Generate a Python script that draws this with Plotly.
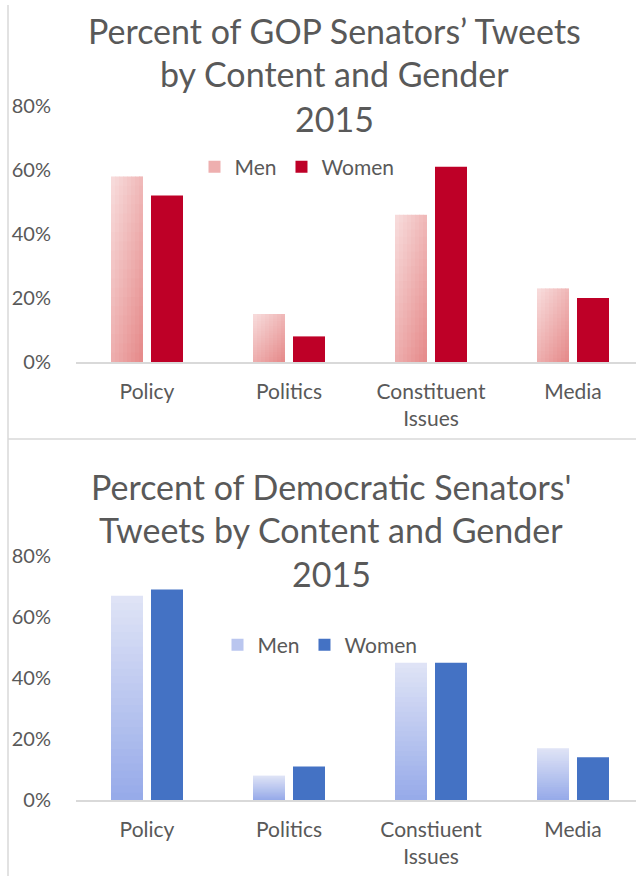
import plotly.graph_objects as go

# ---- data -------------------------------------------------------------
gop_categories = ["Policy", "Politics", "Constituent<br>Issues", "Media"]
dem_categories = ["Policy", "Politics", "Constiuent<br>Issues", "Media"]

gop_men = [0.58, 0.15, 0.46, 0.23]
gop_women = [0.52, 0.08, 0.61, 0.20]

dem_men = [0.67, 0.08, 0.45, 0.17]
dem_women = [0.69, 0.11, 0.45, 0.14]

tick_values = [0, 0.2, 0.4, 0.6, 0.8]
tick_labels = ["0%", "20%", "40%", "60%", "80%"]

gop_title = ["Percent of GOP Senators\u2019 Tweets", "by Content and Gender", "2015"]
dem_title = ["Percent of Democratic Senators'", "Tweets by Content and Gender", "2015"]

# ---- styling ----------------------------------------------------------
W, H = 636, 876
FONT = "Lato, 'Open Sans', sans-serif"
TEXT = "#595959"
RULE = "#d9d9d9"

RED_DARK = "#be0027"
BLUE_DARK = "#4472c4"
RED_LIGHT = ((248, 222, 222), (229, 136, 136))   # top-left -> bottom-right
BLUE_LIGHT = ((224, 228, 246), (150, 170, 233))  # top -> bottom

CAT_PX = 142.0
BAR_W = 32.0 / CAT_PX
MEN_OFF = -36.0 / CAT_PX
WOMEN_OFF = 4.0 / CAT_PX


def mix(c0, c1, t):
    return "rgb(%d,%d,%d)" % tuple(round(a + (b - a) * t) for a, b in zip(c0, c1))


def py(px):
    return 1 - px / H


fig = go.Figure()


def add_gradient_bars(cats, vals, colors, xa, ya, legend, cols, levels, diag):
    """Men bars: shaded by stacking shorter overlays on taller ones."""
    col_w = BAR_W / cols
    for k in range(cols):
        for j in range(levels):
            frac = 1 - j / levels
            v = (j + 0.5) / levels
            u = (k + 0.5) / cols
            t = 0.45 * u + 0.55 * v if diag else v
            show = (k == cols // 2) and (j == levels // 2)
            fig.add_trace(go.Bar(
                x=cats, y=[val * frac for val in vals],
                offset=MEN_OFF + k * col_w, width=col_w * (1.0 if k == cols - 1 else 1.15),
                marker=dict(color=mix(colors[0], colors[1], t), line=dict(width=0)),
                name="Men", showlegend=show, legend=legend, legendrank=1,
                xaxis=xa, yaxis=ya, hoverinfo="skip",
            ))


def add_solid_bars(cats, vals, color, xa, ya, legend):
    fig.add_trace(go.Bar(
        x=cats, y=vals, offset=WOMEN_OFF, width=BAR_W,
        marker=dict(color=color, line=dict(width=0)),
        name="Women", showlegend=True, legend=legend, legendrank=2,
        xaxis=xa, yaxis=ya, hovertemplate="%{y:.0%}<extra>Women</extra>",
    ))


add_gradient_bars(gop_categories, gop_men, RED_LIGHT, "x", "y", "legend", 8, 20, True)
add_solid_bars(gop_categories, gop_women, RED_DARK, "x", "y", "legend")
add_gradient_bars(dem_categories, dem_men, BLUE_LIGHT, "x2", "y2", "legend2", 1, 28, False)
add_solid_bars(dem_categories, dem_women, BLUE_DARK, "x2", "y2", "legend2")

x_dom = [76 / W, 1]
x_rng = [-0.5, -0.5 + (W - 76) / CAT_PX]

xaxis_common = dict(
    domain=x_dom, range=x_rng, type="category", automargin=False,
    showline=True, linecolor=RULE, linewidth=1.5,
    ticks="", showgrid=False, zeroline=False,
    tickfont=dict(family=FONT, size=21, color=TEXT),
    ticklabelstandoff=10,
)
yaxis_common = dict(
    range=[0, 0.8], tickvals=tick_values, ticktext=tick_labels, automargin=False,
    showgrid=False, zeroline=False, showline=False, ticks="",
    tickfont=dict(family=FONT, size=20, color=TEXT),
    ticklabelstandoff=24,
)

legend_common = dict(
    orientation="h", xanchor="center", yanchor="middle",
    font=dict(family=FONT, size=21, color=TEXT),
    bgcolor="rgba(0,0,0,0)", itemclick=False, itemdoubleclick=False,
    traceorder="normal",
)

annotations = []
for line, ypx in zip(gop_title, [30, 73, 118]):
    annotations.append(dict(text=line, x=334 / W, y=py(ypx), xref="paper", yref="paper",
                            xanchor="center", yanchor="middle", showarrow=False,
                            font=dict(family=FONT, size=34, color=TEXT)))
for line, ypx in zip(dem_title, [486, 529, 573]):
    annotations.append(dict(text=line, x=331 / W, y=py(ypx), xref="paper", yref="paper",
                            xanchor="center", yanchor="middle", showarrow=False,
                            font=dict(family=FONT, size=34, color=TEXT)))

shapes = [
    dict(type="line", xref="paper", yref="paper", x0=8 / W, x1=8 / W, y0=0, y1=py(5),
         line=dict(color=RULE, width=1.5)),
    dict(type="line", xref="paper", yref="paper", x0=8 / W, x1=1, y0=py(439), y1=py(439),
         line=dict(color=RULE, width=1.5)),
]

fig.update_layout(
    width=W, height=H,
    margin=dict(l=0, r=0, t=0, b=0, autoexpand=False),
    paper_bgcolor="white", plot_bgcolor="white",
    barmode="overlay",
    xaxis=dict(anchor="y", **xaxis_common),
    yaxis=dict(anchor="x", domain=[py(362), py(106)], **yaxis_common),
    xaxis2=dict(anchor="y2", **xaxis_common),
    yaxis2=dict(anchor="x2", domain=[py(800), py(556)], **yaxis_common),
    legend=dict(x=297 / W, y=py(167), **legend_common),
    legend2=dict(x=320 / W, y=py(645), **legend_common),
    annotations=annotations,
    shapes=shapes,
)

fig.write_html("out.html")
